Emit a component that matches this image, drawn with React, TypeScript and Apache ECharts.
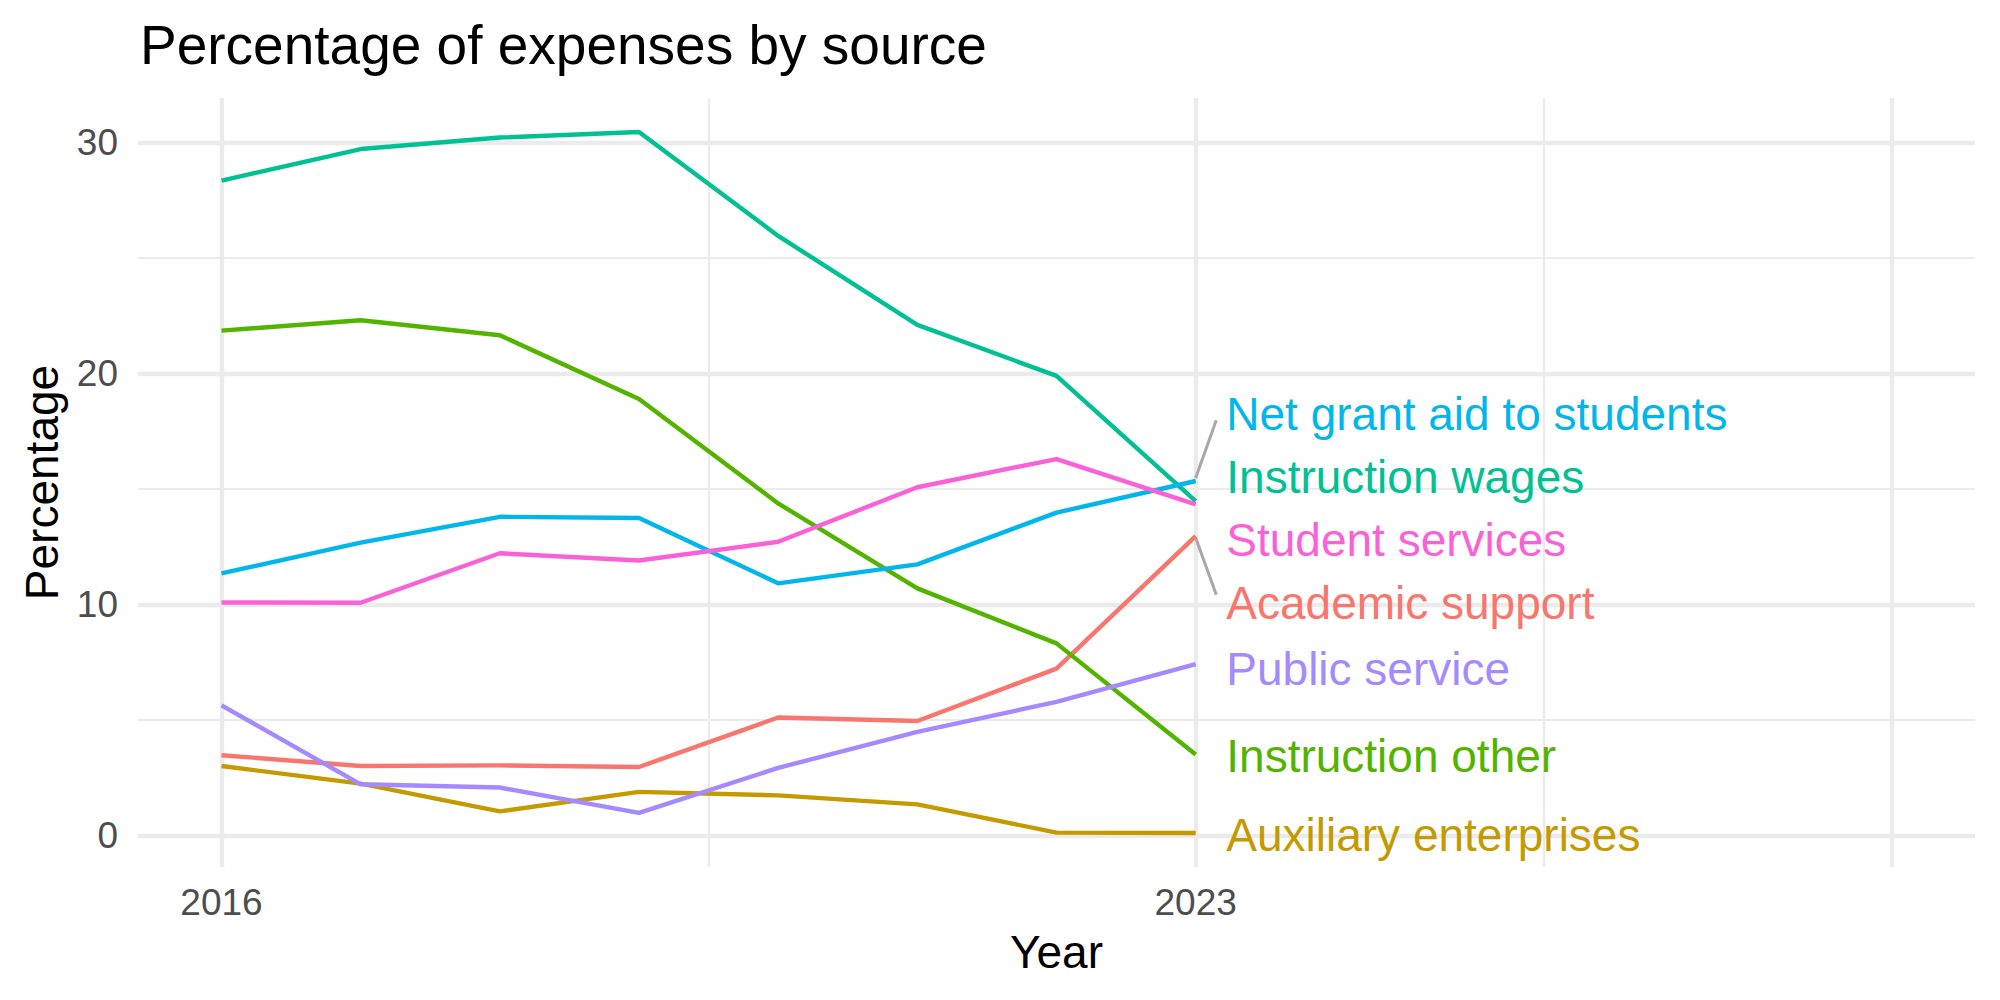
import React, { useEffect, useRef } from "react";
import * as echarts from "echarts";

const years = [2016, 2017, 2018, 2019, 2020, 2021, 2022, 2023];

const seriesNames = [
  "Academic support",
  "Auxiliary enterprises",
  "Instruction other",
  "Instruction wages",
  "Net grant aid to students",
  "Public service",
  "Student services",
];

const colors = ["#F8766D", "#C49A00", "#53B400", "#00C094", "#00B6EB", "#A58AFF", "#FB61D7"];

const academicSupport = [3.47, 3.0, 3.03, 2.96, 5.1, 4.95, 7.22, 12.95];
const auxiliaryEnterprises = [3.0, 2.24, 1.04, 1.88, 1.73, 1.34, 0.12, 0.1];
const instructionOther = [21.85, 22.3, 21.65, 18.89, 14.37, 10.69, 8.31, 3.5];
const instructionWages = [28.34, 29.71, 30.21, 30.45, 25.95, 22.1, 19.89, 14.47];
const netGrantAid = [11.34, 12.67, 13.79, 13.74, 10.91, 11.73, 13.97, 15.34];
const publicService = [5.63, 2.21, 2.07, 0.97, 2.92, 4.48, 5.78, 7.41];
const studentServices = [10.08, 10.07, 12.21, 11.9, 12.71, 15.07, 16.29, 14.33];

const allValues = [
  academicSupport,
  auxiliaryEnterprises,
  instructionOther,
  instructionWages,
  netGrantAid,
  publicService,
  studentServices,
];

// repelled label positions (y in data units), same order as seriesNames
const labelX = 2023.22;
const labelY = [10.07, 0.03, 3.42, 15.52, 18.24, 7.18, 12.8];

// connector segments [x0, y0, x1, y1]
const segments = [
  [2023.0, 15.47, 2023.148, 17.97],
  [2023.0, 12.88, 2023.148, 10.42],
];

const yTicks = [0, 10, 20, 30];
const xTicks = [2016, 2023];
const yMajor = [0, 10, 20, 30];
const yMinor = [5, 15, 25];
const xMajor = [2016, 2023, 2028];
const xMinor = [2019.5, 2025.5];

const FONT = "Liberation Sans, Arial, Helvetica, sans-serif";

export default function App() {
  const ref = useRef<HTMLDivElement>(null);

  useEffect(() => {
    if (!ref.current) return;
    const chart = echarts.init(ref.current, undefined, { renderer: "svg" });

    const gridLineSeries = {
      type: "line",
      data: [],
      silent: true,
      z: 0,
      markLine: {
        silent: true,
        z: 0,
        symbol: "none",
        label: { show: false },
        animation: false,
        data: [
          ...yMajor.map((v) => ({ yAxis: v, lineStyle: { color: "#EBEBEB", width: 4.4, type: "solid" } })),
          ...yMinor.map((v) => ({ yAxis: v, lineStyle: { color: "#EBEBEB", width: 2.2, type: "solid" } })),
          ...xMajor.map((v) => ({ xAxis: v, lineStyle: { color: "#EBEBEB", width: 4.4, type: "solid" } })),
          ...xMinor.map((v) => ({ xAxis: v, lineStyle: { color: "#EBEBEB", width: 2.2, type: "solid" } })),
        ],
      },
    };

    const lineSeries = seriesNames.map((name, i) => ({
      type: "line",
      name,
      data: years.map((y, j) => [y, allValues[i][j]]),
      showSymbol: false,
      symbol: "none",
      z: 3,
      lineStyle: { color: colors[i], width: 4.4, cap: "butt", join: "round" },
      itemStyle: { color: colors[i] },
    }));

    const segmentSeries = segments.map((s) => ({
      type: "line",
      data: [
        [s[0], s[1]],
        [s[2], s[3]],
      ],
      showSymbol: false,
      symbol: "none",
      z: 2,
      silent: true,
      lineStyle: { color: "#A8A8A8", width: 3 },
    }));

    const labelSeries = {
      type: "scatter",
      symbolSize: 0,
      z: 6,
      silent: true,
      itemStyle: { opacity: 1 },
      data: seriesNames.map((name, i) => ({
        name,
        value: [labelX, labelY[i]],
        itemStyle: { opacity: 1 },
        label: {
          show: true,
          position: "right",
          distance: 0,
          formatter: name,
          color: colors[i],
          opacity: 1,
          fontSize: 46,
          fontFamily: FONT,
          verticalAlign: "middle",
        },
      })),
    };

    chart.setOption({
      animation: false,
      backgroundColor: "#FFFFFF",
      title: {
        text: "Percentage of expenses by source",
        left: 140,
        top: 17,
        padding: 0,
        textStyle: { color: "#000000", fontSize: 55, fontWeight: "normal", fontFamily: FONT },
      },
      grid: { left: 138, right: 25, top: 98, bottom: 133, containLabel: false },
      xAxis: {
        type: "value",
        min: 2015.4,
        max: 2028.6,
        name: "Year",
        nameLocation: "middle",
        nameGap: 85,
        nameTextStyle: { color: "#000000", fontSize: 46, fontFamily: FONT, verticalAlign: "middle" },
        axisLine: { show: false },
        axisTick: { show: false },
        splitLine: { show: false },
        axisLabel: {
          customValues: xTicks,
          color: "#4D4D4D",
          fontSize: 37,
          fontFamily: FONT,
          margin: 17,
          formatter: (v: number) => String(Math.round(v)),
        },
      },
      yAxis: {
        type: "value",
        min: -1.37,
        max: 31.92,
        name: "Percentage",
        nameLocation: "middle",
        nameGap: 96,
        nameRotate: 90,
        nameTextStyle: { color: "#000000", fontSize: 46, fontFamily: FONT, verticalAlign: "middle" },
        axisLine: { show: false },
        axisTick: { show: false },
        splitLine: { show: false },
        axisLabel: {
          customValues: yTicks,
          color: "#4D4D4D",
          fontSize: 37,
          fontFamily: FONT,
          margin: 20,
          formatter: (v: number) => String(Math.round(v)),
        },
      },
      series: [gridLineSeries, ...segmentSeries, ...lineSeries, labelSeries],
    });

    return () => chart.dispose();
  }, []);

  return (
    <div
      ref={ref}
      style={{ position: "fixed", left: 0, top: 0, width: 2000, height: 1000, background: "#fff" }}
    />
  );
}
